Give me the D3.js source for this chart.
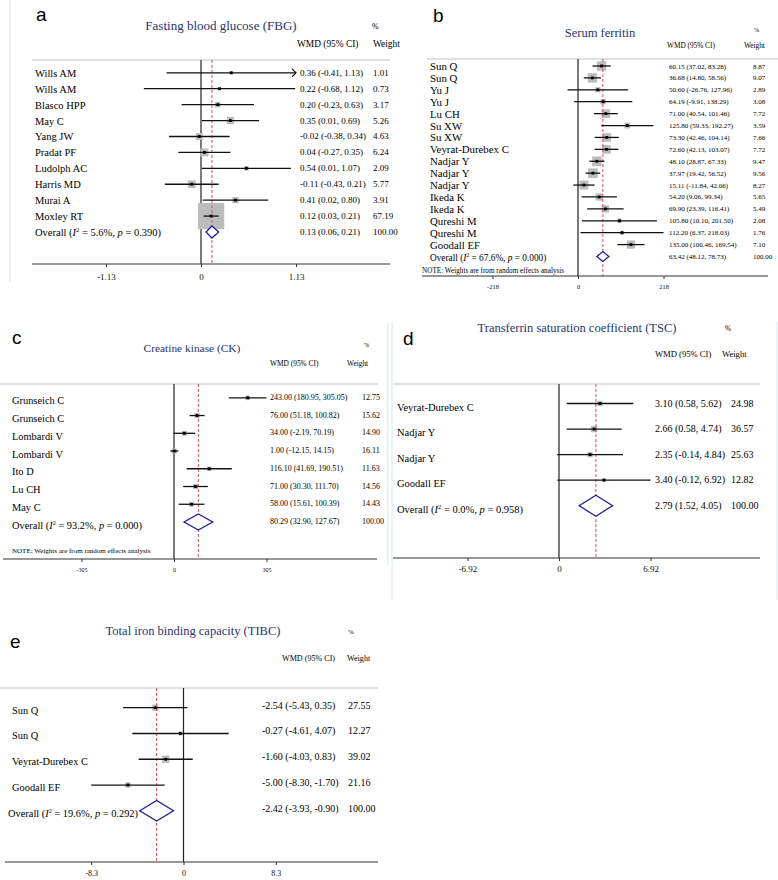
<!DOCTYPE html>
<html>
<head>
<meta charset="utf-8">
<script src="https://cdn.jsdelivr.net/npm/d3@7"></script>
<style>
  body { margin: 0; background: #fff; }
  svg { display: block; }
  text { fill: #000; }
</style>
</head>
<body>
<script>
// a: Fasting blood glucose
const studiesA = ["Wills AM", "Wills AM", "Blasco HPP", "May C", "Yang JW", "Pradat PF", "Ludolph AC", "Harris MD", "Murai A", "Moxley RT"];
const wmdA = [0.36, 0.22, 0.20, 0.35, -0.02, 0.04, 0.54, -0.11, 0.41, 0.12];
const lowA = [-0.41, -0.68, -0.23, 0.01, -0.38, -0.27, 0.01, -0.43, 0.02, 0.03];
const highA = [1.13, 1.12, 0.63, 0.69, 0.34, 0.35, 1.07, 0.21, 0.80, 0.21];
const weightA = [1.01, 0.73, 3.17, 5.26, 4.63, 6.24, 2.09, 5.77, 3.91, 67.19];
const overallA = [0.13, 0.06, 0.21];
const hetA = ["5.6%", "0.390"];
const ticksA = [-1.13, 0, 1.13];

// b: Serum ferritin
const studiesB = ["Sun Q", "Sun Q", "Yu J", "Yu J", "Lu CH", "Su XW", "Su XW", "Veyrat-Durebex C", "Nadjar Y", "Nadjar Y", "Nadjar Y", "Ikeda K", "Ikeda K", "Qureshi M", "Qureshi M", "Goodall EF"];
const wmdB = [60.15, 36.68, 50.60, 64.19, 71.00, 125.80, 73.30, 72.60, 48.10, 37.97, 15.11, 54.20, 69.90, 105.80, 112.20, 135.00];
const lowB = [37.02, 14.80, -26.76, -9.91, 40.54, 59.33, 42.46, 42.13, 28.87, 19.42, -11.84, 9.06, 23.39, 10.10, 6.37, 100.46];
const highB = [83.28, 58.56, 127.96, 138.29, 101.46, 192.27, 104.14, 103.07, 67.33, 56.52, 42.06, 99.34, 116.41, 201.50, 218.03, 169.54];
const weightB = [8.87, 9.07, 2.89, 3.08, 7.72, 3.59, 7.66, 7.72, 9.47, 9.56, 8.27, 5.65, 5.49, 2.08, 1.76, 7.10];
const overallB = [63.42, 48.12, 78.73];
const hetB = ["67.6%", "0.000"];
const ticksB = [-218, 0, 218];

// c: Creatine kinase
const studiesC = ["Grunseich C", "Grunseich C", "Lombardi V", "Lombardi V", "Ito D", "Lu CH", "May C"];
const wmdC = [243.00, 76.00, 34.00, 1.00, 116.10, 71.00, 58.00];
const lowC = [180.95, 51.18, -2.19, -12.15, 41.69, 30.30, 15.61];
const highC = [305.05, 100.82, 70.19, 14.15, 190.51, 111.70, 100.39];
const weightC = [12.75, 15.62, 14.90, 16.11, 11.63, 14.56, 14.43];
const overallC = [80.29, 32.90, 127.67];
const hetC = ["93.2%", "0.000"];
const ticksC = [-305, 0, 305];

// d: Transferrin saturation coefficient
const studiesD = ["Veyrat-Durebex C", "Nadjar Y", "Nadjar Y", "Goodall EF"];
const wmdD = [3.10, 2.66, 2.35, 3.40];
const lowD = [0.58, 0.58, -0.14, -0.12];
const highD = [5.62, 4.74, 4.84, 6.92];
const weightD = [24.98, 36.57, 25.63, 12.82];
const overallD = [2.79, 1.52, 4.05];
const hetD = ["0.0%", "0.958"];
const ticksD = [-6.92, 0, 6.92];

// e: Total iron binding capacity
const studiesE = ["Sun Q", "Sun Q", "Veyrat-Durebex C", "Goodall EF"];
const wmdE = [-2.54, -0.27, -1.60, -5.00];
const lowE = [-5.43, -4.61, -4.03, -8.30];
const highE = [0.35, 4.07, 0.83, -1.70];
const weightE = [27.55, 12.27, 39.02, 21.16];
const overallE = [-2.42, -3.93, -0.90];
const hetE = ["19.6%", "0.292"];
const ticksE = [-8.3, 0, 8.3];

const serif = "'Liberation Serif', 'Times New Roman', serif";
const sans = "'Liberation Sans', Arial, sans-serif";
const navy = "#27356f";

const svg = d3.select("body").append("svg")
  .attr("width", 778)
  .attr("height", 880);

// faint panel edges
const edges = [[10, 0, 10, 282], [388, 322, 388, 565], [392, 322, 392, 600], [777, 322, 777, 600]];
svg.selectAll("line.edge").data(edges).join("line")
  .attr("class", "edge")
  .attr("x1", d => d[0]).attr("y1", d => d[1])
  .attr("x2", d => d[2]).attr("y2", d => d[3])
  .attr("stroke", "#e6eff1").attr("stroke-width", 1.5);

function forest(p, names, wmd, low, high, weight, overall, het, ticks) {
  const g = svg.append("g");
  const x = d3.scaleLinear().domain([ticks[0], ticks[2]]).range(p.x);
  const y = d3.scaleLinear().domain([0, names.length]).range([p.rowFirst, p.rowLast]);

  g.append("text").attr("x", p.label[0]).attr("y", p.label[1])
    .attr("font-family", sans).attr("font-size", 19).text(p.letter);

  g.append("text").attr("x", p.title[0]).attr("y", p.title[1])
    .attr("text-anchor", "middle").attr("font-family", serif)
    .attr("font-size", p.titleSize || 12.5).style("fill", navy).text(p.titleText);

  g.append("text").attr("x", p.pct[0]).attr("y", p.pct[1])
    .attr("font-family", serif).attr("font-size", p.headSize * 0.85).text("%");
  g.append("text").attr("x", p.head[0]).attr("y", p.head[2])
    .attr("font-family", serif).attr("font-size", p.headSize).text("WMD (95% CI)");
  g.append("text").attr("x", p.head[1]).attr("y", p.head[2])
    .attr("font-family", serif).attr("font-size", p.headSize).text("Weight");

  g.append("line")
    .attr("x1", p.sep[0]).attr("x2", p.sep[1]).attr("y1", p.sep[2]).attr("y2", p.sep[2])
    .attr("stroke", "#d6d6d6").attr("stroke-width", 1.5);

  // zero line
  g.append("line")
    .attr("x1", x(0)).attr("x2", x(0)).attr("y1", p.sep[2]).attr("y2", p.axisY)
    .attr("stroke", "#222").attr("stroke-width", 1.2);

  // weight boxes
  g.selectAll("rect.box").data(weight).join("rect")
    .attr("class", "box")
    .attr("x", (d, i) => x(wmd[i]) - p.box * Math.sqrt(d) / 2)
    .attr("y", (d, i) => y(i) - p.box * Math.sqrt(d) / 2)
    .attr("width", d => p.box * Math.sqrt(d))
    .attr("height", d => p.box * Math.sqrt(d))
    .attr("fill", "#bcbcbc");

  // overall dashed line
  g.append("line")
    .attr("x1", x(overall[0])).attr("x2", x(overall[0]))
    .attr("y1", p.sep[2]).attr("y2", p.axisY)
    .attr("stroke", "#d3505a").attr("stroke-width", 1).attr("stroke-dasharray", "3,2");

  // CI lines
  g.selectAll("line.ci").data(wmd).join("line")
    .attr("class", "ci")
    .attr("x1", (d, i) => x(low[i])).attr("x2", (d, i) => x(high[i]))
    .attr("y1", (d, i) => y(i)).attr("y2", (d, i) => y(i))
    .attr("stroke", "#111").attr("stroke-width", 1.3);

  // arrows where the interval runs off the scale
  g.selectAll("path.arrow").data(high.map((h, i) => [h, i]).filter(d => d[0] >= p.clip)).join("path")
    .attr("class", "arrow")
    .attr("d", d => `M${x(d[0]) - 4},${y(d[1]) - 4}L${x(d[0])},${y(d[1])}L${x(d[0]) - 4},${y(d[1]) + 4}`)
    .attr("fill", "none").attr("stroke", "#111").attr("stroke-width", 1.2);

  // point estimates
  g.selectAll("rect.pt").data(wmd).join("rect")
    .attr("class", "pt")
    .attr("x", d => x(d) - 1.4).attr("y", (d, i) => y(i) - 1.4)
    .attr("width", 2.8).attr("height", 2.8).attr("fill", "#000");

  // pooled diamond
  const yo = y(names.length);
  g.append("path")
    .attr("d", `M${x(overall[1])},${yo}L${x(overall[0])},${yo - p.diamond}L${x(overall[2])},${yo}L${x(overall[0])},${yo + p.diamond}Z`)
    .attr("fill", "#fff").attr("stroke", "#1c1f96").attr("stroke-width", 1.3);

  // study labels
  g.selectAll("text.name").data(names).join("text")
    .attr("class", "name")
    .attr("x", p.nameX).attr("y", (d, i) => y(i) + p.nameDy)
    .attr("font-family", serif).attr("font-size", p.nameSize).text(d => d);

  const os = p.ovSize || p.nameSize;
  const ov = g.append("text").attr("x", p.nameX - (p.ovShift || 0)).attr("y", yo + p.nameDy)
    .attr("font-family", serif).attr("font-size", os);
  ov.append("tspan").text("Overall (");
  ov.append("tspan").attr("font-style", "italic").text("I");
  ov.append("tspan").attr("font-size", os * 0.6).attr("dy", -os * 0.35).text("2");
  ov.append("tspan").attr("dy", os * 0.35).text(` = ${het[0]}, `);
  ov.append("tspan").attr("font-style", "italic").text("p");
  ov.append("tspan").text(` = ${het[1]})`);

  const fmt = d3.format(".2f");
  const dash = s => s.replace(/\u2212/g, "-");
  const vals = wmd.map((d, i) => [d, low[i], high[i], weight[i]]).concat([[overall[0], overall[1], overall[2], 100]]);
  g.selectAll("text.val").data(vals).join("text")
    .attr("class", "val")
    .attr("x", p.valX).attr("y", (d, i) => y(i) + p.valDy)
    .attr("font-family", serif).attr("font-size", p.valSize)
    .text(d => dash(`${fmt(d[0])} (${fmt(d[1])}, ${fmt(d[2])})`));
  g.selectAll("text.wt").data(vals).join("text")
    .attr("class", "wt")
    .attr("x", p.wX).attr("y", (d, i) => y(i) + p.valDy)
    .attr("font-family", serif).attr("font-size", p.valSize)
    .text(d => fmt(d[3]));

  if (p.note) {
    g.append("text").attr("x", p.note[0]).attr("y", p.note[1])
      .attr("font-family", serif).attr("font-size", p.note[2])
      .text("NOTE: Weights are from random effects analysis");
  }

  // x axis
  g.append("line")
    .attr("x1", p.axisX[0]).attr("x2", p.axisX[1]).attr("y1", p.axisY).attr("y2", p.axisY)
    .attr("stroke", "#333").attr("stroke-width", 1.2);
  const ax = g.append("g")
    .attr("transform", `translate(0,${p.axisY})`)
    .call(d3.axisBottom(x).tickValues(ticks).tickSize(3).tickFormat(d => dash(String(d))));
  ax.select(".domain").remove();
  ax.selectAll(".tick line").attr("stroke", "#333");
  ax.selectAll(".tick text")
    .attr("y", p.tickDy).attr("dy", 0)
    .attr("font-family", serif).attr("font-size", p.tickSize).style("fill", "#111");
}

forest({
  letter: "a", label: [36, 21], titleText: "Fasting blood glucose (FBG)", title: [221, 30], titleSize: 13,
  pct: [372, 29], head: [297, 373, 47], headSize: 9.4, sep: [32, 390, 60],
  x: [106, 296], rowFirst: 72.8, rowLast: 232, nameX: 35, nameDy: 4, nameSize: 10.5,
  valX: 300, valDy: 3, valSize: 9, wX: 373, axisY: 264, axisX: [32, 390], tickSize: 9, tickDy: 16,
  box: 3.2, diamond: 6, clip: 1.13
}, studiesA, wmdA, lowA, highA, weightA, overallA, hetA, ticksA);

forest({
  letter: "b", label: [433, 22], titleText: "Serum ferritin", title: [600, 37],
  pct: [754, 32], head: [667, 744, 48], headSize: 7.3, sep: [427, 778, 59],
  x: [492.5, 663.5], rowFirst: 66, rowLast: 256.5, nameX: 430, nameDy: 4, nameSize: 10.8, ovSize: 9.3,
  valX: 669, valDy: 2.5, valSize: 7, wX: 753, axisY: 276, axisX: [422, 768], tickSize: 6.5, tickDy: 13,
  box: 3.1, diamond: 5, clip: Infinity, note: [422, 273, 7.2]
}, studiesB, wmdB, lowB, highB, weightB, overallB, hetB, ticksB);

forest({
  letter: "c", label: [12, 344], titleText: "Creatine kinase (CK)", title: [192, 352], titleSize: 11.4,
  pct: [364, 347], head: [270, 347, 366], headSize: 7.4, sep: [0, 378, 384],
  x: [81.5, 266.5], rowFirst: 397.8, rowLast: 522, nameX: 12, nameDy: 6.5, nameSize: 10.4,
  valX: 270, valDy: 2, valSize: 8, wX: 362, axisY: 559, axisX: [3, 377], tickSize: 6, tickDy: 13,
  box: 1.3, diamond: 8, clip: Infinity, note: [12, 553, 7]
}, studiesC, wmdC, lowC, highC, weightC, overallC, hetC, ticksC);

forest({
  letter: "d", label: [403, 345], titleText: "Transferrin saturation coefficient (TSC)", title: [577, 332],
  pct: [725, 331], head: [655, 722, 357], headSize: 8.6, sep: [393, 760, 384],
  x: [467.5, 650.5], rowFirst: 403.5, rowLast: 505.7, nameX: 397, nameDy: 7, nameSize: 10.5,
  valX: 655, valDy: 3, valSize: 10, wX: 731, axisY: 558, axisX: [393, 760], tickSize: 9, tickDy: 14,
  box: 1.07, diamond: 10.5, clip: Infinity, ovShift: 0
}, studiesD, wmdD, lowD, highD, weightD, overallD, hetD, ticksD);

forest({
  letter: "e", label: [10, 648], titleText: "Total iron binding capacity (TIBC)", title: [193, 635],
  pct: [348, 634], head: [282, 347, 661], headSize: 8.1, sep: [0, 378, 688],
  x: [91.2, 275.8], rowFirst: 707.7, rowLast: 810.8, nameX: 12, nameDy: 6, nameSize: 10.4,
  valX: 262, valDy: 1, valSize: 10, wX: 348, axisY: 862, axisX: [5, 378], tickSize: 8, tickDy: 14,
  box: 1.17, diamond: 10.3, clip: Infinity, ovShift: 4
}, studiesE, wmdE, lowE, highE, weightE, overallE, hetE, ticksE);
</script>
</body>
</html>
